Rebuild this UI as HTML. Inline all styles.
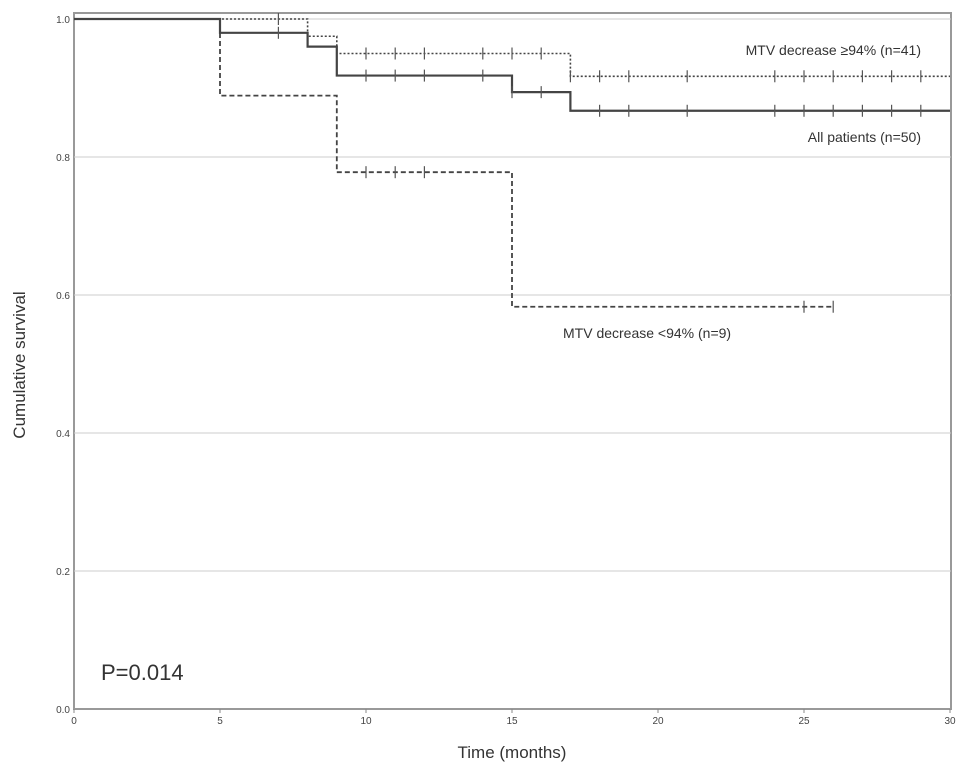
<!DOCTYPE html>
<html><head><meta charset="utf-8"><style>
body{margin:0;background:#fff;}
svg{display:block;font-family:"Liberation Sans",Arial,sans-serif;}
</style></head><body>
<svg id="chart" width="969" height="777">
<rect x="74" y="13" width="877" height="696" fill="none" stroke="#999" stroke-width="2"/>
<g id="grid"></g><g id="axes"></g><g id="series"></g>
<text x="921" y="55" text-anchor="end" font-size="14" fill="#333">MTV decrease ≥94% (n=41)</text>
<text x="921" y="142" text-anchor="end" font-size="14" fill="#333">All patients (n=50)</text>
<text x="563" y="338" font-size="14" fill="#333">MTV decrease &lt;94% (n=9)</text>
<text x="101" y="680" font-size="22" fill="#333">P=0.014</text>
<text x="512" y="758" text-anchor="middle" font-size="17" fill="#333">Time (months)</text>
<text transform="translate(25,365) rotate(-90)" text-anchor="middle" font-size="17" fill="#333">Cumulative survival</text>
</svg>
<script>
const xTicks=[0,5,10,15,20,25,30];
const yTicks=[0,0.2,0.4,0.6,0.8,1.0];
const allTimes=[0,5,8,9,15,17,30];
const allSurv=[1,0.98,0.96,0.918,0.894,0.867,0.867];
const allCens=[[7,0.98],[10,0.918],[11,0.918],[12,0.918],[14,0.918],[15,0.894],[16,0.894],[18,0.867],[19,0.867],[21,0.867],[24,0.867],[25,0.867],[26,0.867],[27,0.867],[28,0.867],[29,0.867]];
const highTimes=[0,8,9,17,30];
const highSurv=[1,0.975,0.95,0.917,0.917];
const highCens=[[7,1],[10,0.95],[11,0.95],[12,0.95],[14,0.95],[15,0.95],[16,0.95],[17,0.917],[18,0.917],[19,0.917],[21,0.917],[24,0.917],[25,0.917],[26,0.917],[27,0.917],[28,0.917],[29,0.917]];
const lowTimes=[0,5,9,15,26];
const lowSurv=[1,0.889,0.778,0.583,0.583];
const lowCens=[[10,0.778],[11,0.778],[12,0.778],[25,0.583],[26,0.583]];
const NS="http://www.w3.org/2000/svg";
const X=t=>74+t*29.2, Y=v=>709-v*690;
function mk(tag,at,parent){const e=document.createElementNS(NS,tag);for(const k in at)e.setAttribute(k,at[k]);parent.appendChild(e);return e;}
const grid=document.getElementById('grid'),axes=document.getElementById('axes'),ser=document.getElementById('series');
yTicks.forEach(v=>{
 if(v>0){const l=mk('line',{x1:74,x2:951,y1:Y(v),y2:Y(v),stroke:'#ccc','stroke-width':1},grid);
 
 }
 const t=mk('text',{x:70,y:Y(v)+4,'text-anchor':'end','font-size':10,fill:'#444'},axes);t.textContent=v.toFixed(1);
 
 
});
xTicks.forEach(v=>{
 mk('line',{x1:X(v),x2:X(v),y1:709,y2:713,stroke:'#888'},axes);
 const t=mk('text',{x:X(v),y:724,'text-anchor':'middle','font-size':10,fill:'#444'},axes);t.textContent=v;
 
 
});
function draw(times,surv,cens,dash,w,name){
 let d='M'+X(times[0])+','+Y(surv[0]);
 for(let i=1;i<times.length;i++){d+=' H'+X(times[i])+' V'+Y(surv[i]);}
 const p=mk('path',{d:d,fill:'none',stroke:'#444','stroke-width':w,'stroke-dasharray':dash},ser);
 
 
 cens.forEach(c=>{const m=mk('line',{x1:X(c[0]),x2:X(c[0]),y1:Y(c[1])-6,y2:Y(c[1])+6,stroke:'#555','stroke-width':1.2},ser);
 
 });
}
draw(lowTimes,lowSurv,lowCens,'5,3',1.8,'low');
draw(highTimes,highSurv,highCens,'2,2',1.6,'high');
draw(allTimes,allSurv,allCens,'none',2.2,'all');
</script>
</body></html>
